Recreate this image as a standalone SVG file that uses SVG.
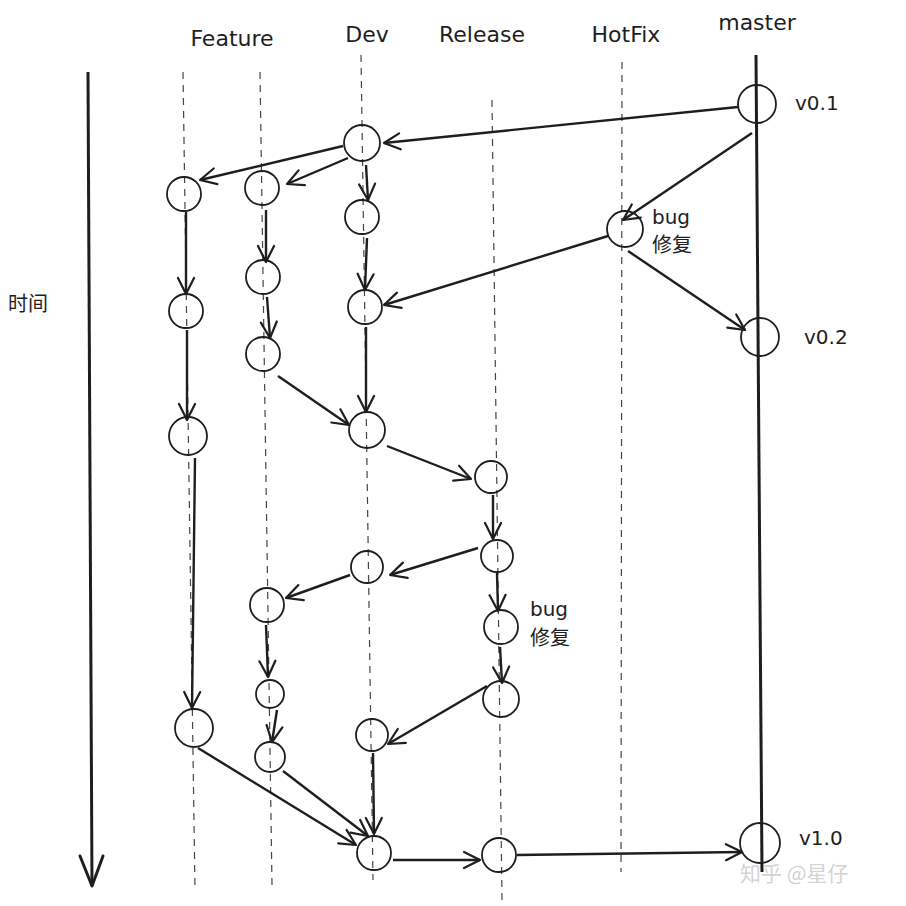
<svg xmlns="http://www.w3.org/2000/svg" width="906" height="906" viewBox="0 0 906 906">
<style>
.lane{stroke:#444;stroke-width:1.2;stroke-dasharray:7 6;fill:none}
.node{fill:none;stroke:#1e1e1e;stroke-width:1.8}
.e{stroke:#1e1e1e;stroke-width:2.4;fill:none;marker-end:url(#ah)}
.t{font-family:"DejaVu Sans","Noto Sans CJK SC",sans-serif;fill:#1e1e1e}
.h{font-size:22px;text-anchor:middle}
.l{font-size:20px}
</style>
<defs>
<marker id="ah" viewBox="-20 -10 22 20" refX="0" refY="0" markerWidth="22" markerHeight="20" markerUnits="userSpaceOnUse" orient="auto">
<path d="M-16,-8 L0,0 L-16,8" fill="none" stroke="#1e1e1e" stroke-width="2.2" stroke-linecap="round" stroke-linejoin="round"/>
</marker>
</defs>
<rect width="906" height="906" fill="#fff"/>
<g id="lanes">
<line class="lane" x1="183" y1="72" x2="195" y2="890"/>
<line class="lane" x1="260" y1="72" x2="272" y2="885"/>
<line class="lane" x1="361" y1="55" x2="373" y2="880"/>
<line class="lane" x1="492" y1="100" x2="502" y2="900"/>
<line class="lane" x1="622" y1="62" x2="621" y2="872"/>
<line x1="756" y1="55" x2="762" y2="872" stroke="#1e1e1e" stroke-width="3"/>
<line x1="88" y1="72" x2="92" y2="886" stroke="#1e1e1e" stroke-width="3"/>
<path d="M80,856 L92,886 L103,856" fill="none" stroke="#1e1e1e" stroke-width="3" stroke-linecap="round" stroke-linejoin="round"/>
</g>
<g id="headers" class="t h">
<text x="232" y="46">Feature</text>
<text x="367" y="42">Dev</text>
<text x="482" y="42">Release</text>
<text x="626" y="42">HotFix</text>
<text x="757" y="30">master</text>
</g>
<text class="t l" x="8" y="311">时间</text>
<g id="connectors">
<line class="e" x1="738" y1="107" x2="384" y2="143"/>
<line class="e" x1="343" y1="146" x2="200" y2="180"/>
<line class="e" x1="348" y1="158" x2="287" y2="184"/>
<line class="e" x1="366" y1="165" x2="368" y2="200"/>
<line class="e" x1="752" y1="133" x2="623" y2="220"/>
<line class="e" x1="608" y1="236" x2="384" y2="305"/>
<line class="e" x1="628" y1="251" x2="745" y2="330"/>
<line class="e" x1="186" y1="212" x2="186" y2="294"/>
<line class="e" x1="266" y1="210" x2="266" y2="262"/>
<line class="e" x1="367" y1="238" x2="365" y2="290"/>
<line class="e" x1="267" y1="297" x2="270" y2="338"/>
<line class="e" x1="366" y1="327" x2="366" y2="412"/>
<line class="e" x1="187" y1="330" x2="187" y2="420"/>
<line class="e" x1="278" y1="376" x2="349" y2="425"/>
<line class="e" x1="387" y1="446" x2="471" y2="479"/>
<line class="e" x1="493" y1="495" x2="493" y2="539"/>
<line class="e" x1="478" y1="548" x2="390" y2="575"/>
<line class="e" x1="350" y1="575" x2="286" y2="598"/>
<line class="e" x1="497" y1="573" x2="498" y2="611"/>
<line class="e" x1="500" y1="647" x2="502" y2="683"/>
<line class="e" x1="266" y1="625" x2="268" y2="677"/>
<line class="e" x1="487" y1="686" x2="388" y2="744"/>
<line class="e" x1="277" y1="710" x2="272" y2="742"/>
<line class="e" x1="195" y1="458" x2="192" y2="708"/>
<line class="e" x1="198" y1="748" x2="356" y2="845"/>
<line class="e" x1="283" y1="771" x2="368" y2="836"/>
<line class="e" x1="373" y1="753" x2="374" y2="834"/>
<line class="e" x1="393" y1="860" x2="480" y2="860"/>
<line class="e" x1="517" y1="855" x2="742" y2="852"/>
</g>
<g id="master-v01"><circle class="node" cx="757" cy="104" r="19"/><text class="t l" x="795" y="110">v0.1</text></g>
<g id="dev1"><circle class="node" cx="362" cy="143" r="18"/></g>
<g id="feat1a"><circle class="node" cx="184" cy="194" r="17"/></g>
<g id="feat2a"><circle class="node" cx="262" cy="188" r="17"/></g>
<g id="dev2"><circle class="node" cx="362" cy="217" r="17"/></g>
<g id="hotfix"><circle class="node" cx="625" cy="229" r="18"/><text class="t l" x="652" y="224">bug</text><text class="t l" x="652" y="252">修复</text></g>
<g id="feat1b"><circle class="node" cx="186" cy="311" r="17"/></g>
<g id="feat2b"><circle class="node" cx="263" cy="277" r="17"/></g>
<g id="dev3"><circle class="node" cx="365" cy="307" r="17"/></g>
<g id="master-v02"><circle class="node" cx="760" cy="337" r="19"/><text class="t l" x="804" y="344">v0.2</text></g>
<g id="feat2c"><circle class="node" cx="263" cy="354" r="17"/></g>
<g id="feat1c"><circle class="node" cx="188" cy="436" r="19"/></g>
<g id="dev4"><circle class="node" cx="367" cy="430" r="18"/></g>
<g id="rel1"><circle class="node" cx="491" cy="477" r="16"/></g>
<g id="rel2"><circle class="node" cx="497" cy="556" r="16"/></g>
<g id="dev5"><circle class="node" cx="367" cy="567" r="16"/></g>
<g id="feat2d"><circle class="node" cx="267" cy="605" r="17"/></g>
<g id="rel3"><circle class="node" cx="501" cy="627" r="17"/><text class="t l" x="530" y="616">bug</text><text class="t l" x="530" y="645">修复</text></g>
<g id="rel4"><circle class="node" cx="501" cy="699" r="18"/></g>
<g id="feat2e"><circle class="node" cx="270" cy="694" r="14"/></g>
<g id="dev6"><circle class="node" cx="372" cy="735" r="16"/></g>
<g id="feat1d"><circle class="node" cx="194" cy="728" r="19"/></g>
<g id="feat2f"><circle class="node" cx="270" cy="757" r="15"/></g>
<g id="dev7"><circle class="node" cx="374" cy="853" r="17"/></g>
<g id="rel5"><circle class="node" cx="499" cy="855" r="17"/></g>
<g id="master-v10"><circle class="node" cx="760" cy="843" r="20"/><text class="t l" x="799" y="845">v1.0</text></g>
<text x="740" y="881" font-family="'Noto Sans CJK SC',sans-serif" font-size="21" fill="#ccc" fill-opacity="0.85">知乎 @星仔</text>
</svg>
